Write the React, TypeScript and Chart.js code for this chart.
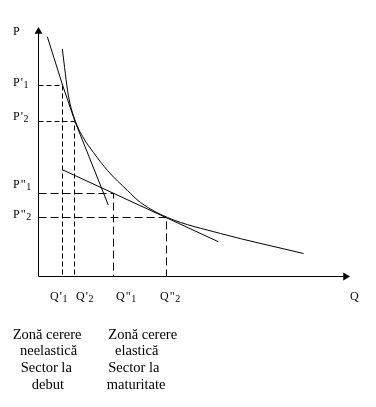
import React, { useEffect, useRef } from "react";
import { Chart, registerables } from "chart.js";

Chart.register(...registerables);

// Demand curve (Q, P) (origin at the axes' corner)
const demandQ = [23.8, 29.8, 37, 45, 55, 69, 89, 102, 129, 182, 265];
const demandP = [227.5, 181.5, 155, 138.5, 124, 106, 86, 74, 59, 43, 23];

// Steep tangent line (inelastic segment)
const tangent1Q = [8.8, 24.2, 36.5, 69.8];
const tangent1P = [239.8, 191, 155, 71.5];

// Flat tangent line (elastic segment)
const tangent2Q = [24.5, 179.8];
const tangent2P = [106.5, 34.8];

// Marked prices and quantities: P'1, P'2, P''1, P''2 and Q'1, Q'2, Q''1, Q''2
const priceLevels = [191, 155, 83, 59];
const quantityLevels = [24, 36, 75, 128];
const levelPrimes = ["'", "'", "\"", "\""];
const levelSubs = ["1", "2", "1", "2"];

// Axis extents
const axisQMax = 308;
const axisPMax = 245;

// Zone notes under the chart
const leftNote = ["Zonă cerere", "neelastică", "Sector la", "debut"];
const rightNote = ["Zonă cerere", "elastică", "Sector la", "maturitate"];

const ORIGIN_X = 38.5;
const ORIGIN_Y = 276.5;
const W = 376;
const H = 407;

const FONT_MAIN = '12px "Liberation Serif", "Times New Roman", serif';
const FONT_SUB = '10px "Liberation Serif", "Times New Roman", serif';
const FONT_NOTE = '14.5px "Liberation Serif", "Times New Roman", serif';

function pts(xs: number[], ys: number[]) {
  return xs.map((x, i) => ({ x, y: ys[i] }));
}

const textPlugin = {
  id: "diagramTexts",
  afterDatasetsDraw(chart: any) {
    const ctx: CanvasRenderingContext2D = chart.ctx;
    const xs = chart.scales.x;
    const ys = chart.scales.y;
    ctx.save();
    ctx.fillStyle = "#000";
    ctx.textAlign = "left";
    ctx.textBaseline = "alphabetic";

    const label = (main: string, primes: string, sub: string, x: number, y: number) => {
      ctx.font = FONT_MAIN;
      ctx.fillText(main, x, y);
      let cx = x + ctx.measureText(main).width;
      if (primes) {
        cx += 1;
        ctx.fillText(primes, cx, y);
        cx += ctx.measureText(primes).width + 0.7;
      }
      if (sub) {
        ctx.font = FONT_SUB;
        ctx.fillText(sub, cx, y + 2);
      }
    };

    // axis names
    label("P", "", "", 13, 35);
    label("Q", "", "", 350, 300);

    // price labels
    const pOffsets = [0, -1.5, -5.5, 0.5];
    priceLevels.forEach((p, i) => {
      label("P", levelPrimes[i], levelSubs[i], 13, ys.getPixelForValue(p) + pOffsets[i]);
    });

    // quantity labels
    const qOffsets = [-12.5, 1.5, 2.5, -6.5];
    quantityLevels.forEach((q, i) => {
      label("Q", levelPrimes[i], levelSubs[i], xs.getPixelForValue(q) + qOffsets[i], 300);
    });

    // notes
    ctx.font = FONT_NOTE;
    const baselines = [338.5, 355, 371.5, 388.5];
    const leftX = [12.7, 20, 20.7, 31.7];
    const rightX = [108.3, 115, 108.3, 106.7];
    leftNote.forEach((t, i) => ctx.fillText(t, leftX[i], baselines[i]));
    rightNote.forEach((t, i) => ctx.fillText(t, rightX[i], baselines[i]));

    ctx.restore();
  },
};

export default function App() {
  const ref = useRef<HTMLCanvasElement>(null);

  useEffect(() => {
    if (!ref.current) return;
    const line = (data: any[], extra: any = {}) => ({
      data,
      showLine: true,
      borderColor: "#000",
      backgroundColor: "#000",
      borderWidth: 1,
      pointRadius: 0,
      pointHoverRadius: 0,
      fill: false,
      ...extra,
    });

    const dashed = quantityLevels.map((q, i) =>
      line(
        [
          { x: 0, y: priceLevels[i] },
          { x: q, y: priceLevels[i] },
          { x: q, y: 0 },
        ],
        { borderDash: i < 2 ? [5, 3] : [8, 4] }
      )
    );

    const chart = new Chart(ref.current, {
      type: "scatter",
      data: {
        datasets: [
          line([
            { x: 0, y: 0 },
            { x: 0, y: axisPMax },
          ]),
          line([
            { x: 0, y: 0 },
            { x: axisQMax, y: 0 },
          ]),
          line([{ x: 0, y: axisPMax }], {
            showLine: false,
            pointRadius: 4.5,
            pointStyle: "triangle",
            borderWidth: 0,
          }),
          line([{ x: axisQMax - 1, y: 0 }], {
            showLine: false,
            pointRadius: 4.5,
            pointStyle: "triangle",
            rotation: 90,
            borderWidth: 0,
          }),
          ...dashed,
          line(pts(tangent1Q, tangent1P)),
          line(pts(tangent2Q, tangent2P)),
          line(pts(demandQ, demandP), { tension: 0.4, cubicInterpolationMode: "monotone" }),
        ],
      },
      options: {
        animation: false,
        responsive: false,
        events: [],
        layout: { padding: 0, autoPadding: false },
        plugins: {
          legend: { display: false },
          tooltip: { enabled: false },
        },
        scales: {
          x: { type: "linear", display: false, min: -ORIGIN_X, max: W - ORIGIN_X },
          y: { type: "linear", display: false, min: ORIGIN_Y - H, max: ORIGIN_Y },
        },
      },
      plugins: [textPlugin],
    } as any);
    return () => chart.destroy();
  }, []);

  return (
    <div style={{ position: "fixed", left: 0, top: 0, width: W, height: H, background: "#fff" }}>
      <canvas ref={ref} width={W} height={H} style={{ display: "block", width: W, height: H }} />
    </div>
  );
}
